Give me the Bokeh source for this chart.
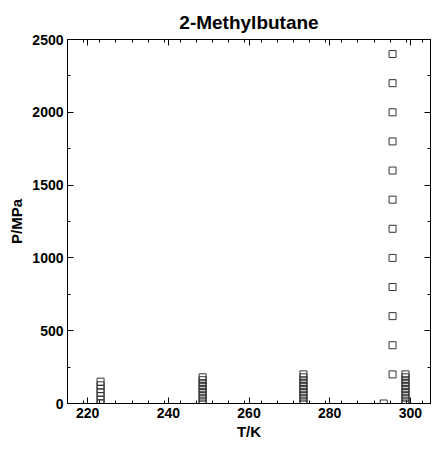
from bokeh.plotting import figure
from bokeh.models import LinearAxis, FixedTicker, Range1d, CustomJSTickFormatter
from bokeh.embed import file_html
from bokeh.resources import INLINE

# Measured state points (temperature in K, pressure in MPa) for 2-methylbutane
t_223 = [223.2] * 7
p_223 = [0.1, 25, 50, 75, 100, 125, 150]

t_248 = [248.5] * 10
p_248 = [0.1, 20, 40, 60, 80, 100, 120, 140, 160, 180]

t_273 = [273.5] * 11
p_273 = [0.1, 20, 40, 60, 80, 100, 120, 140, 160, 180, 200]

t_293 = [293.4]
p_293 = [0.1]

t_295 = [295.6] * 12
p_295 = [200, 400, 600, 800, 1000, 1200, 1400, 1600, 1800, 2000, 2200, 2400]

t_298 = [298.8] * 11
p_298 = [0.1, 20, 40, 60, 80, 100, 120, 140, 160, 180, 200]

x_ticks = [220, 240, 260, 280, 300]
y_ticks = [0, 500, 1000, 1500, 2000, 2500]

FONT = "Liberation Sans"

p = figure(
    width=432, height=450,
    x_range=Range1d(215, 305), y_range=Range1d(0, 2500),
    output_backend="svg", toolbar_location=None,
    title="2-Methylbutane",
    min_border_left=67, min_border_right=2,
    min_border_top=39, min_border_bottom=47,
)
p.grid.visible = False
p.outline_line_color = "black"
p.background_fill_color = "white"
p.border_fill_color = "white"

p.title.align = "center"
p.title.text_font = FONT
p.title.text_font_size = "19px"
p.title.text_font_style = "bold"
p.title.text_color = "black"
p.title.offset = 8
p.title.standoff = 13

series = [(t_223, p_223), (t_248, p_248), (t_273, p_273),
          (t_293, p_293), (t_295, p_295), (t_298, p_298)]
for ts, ps in series:
    p.scatter(ts, ps, marker="square", size=7, fill_color=None,
              line_color="#333333", line_width=1)


def style_axis(ax, show_labels=True):
    ax.axis_line_color = "black"
    ax.major_tick_line_color = "black"
    ax.minor_tick_line_color = "black"
    ax.major_tick_in = 6
    ax.major_tick_out = 0
    ax.minor_tick_in = 3
    ax.minor_tick_out = 0
    if show_labels:
        ax.major_label_text_font = FONT
        ax.major_label_text_font_size = "14px"
        ax.major_label_text_font_style = "bold"
        ax.major_label_text_color = "black"
        ax.major_label_standoff = 4
        ax.axis_label_text_font = FONT
        ax.axis_label_text_font_size = "15px"
        ax.axis_label_text_font_style = "bold"
        ax.axis_label_text_color = "black"
    else:
        ax.formatter = CustomJSTickFormatter(code="return '';")
        ax.major_label_standoff = 0


xticker = FixedTicker(ticks=x_ticks, minor_ticks=[215 + 4 * i for i in range(0, 23)])
yticker = FixedTicker(ticks=y_ticks, minor_ticks=[250 * i for i in range(0, 11)])

xa = p.xaxis[0]
xa.ticker = xticker
xa.axis_label = "T/K"
xa.axis_label_standoff = 2
style_axis(xa)

ya = p.yaxis[0]
ya.ticker = yticker
ya.axis_label = "P/MPa"
ya.axis_label_standoff = 4
style_axis(ya)

top = LinearAxis(ticker=xticker)
style_axis(top, show_labels=False)
p.add_layout(top, "above")

right = LinearAxis(ticker=yticker)
style_axis(right, show_labels=False)
p.add_layout(right, "right")

open("out.html", "w").write(file_html(p, INLINE))
